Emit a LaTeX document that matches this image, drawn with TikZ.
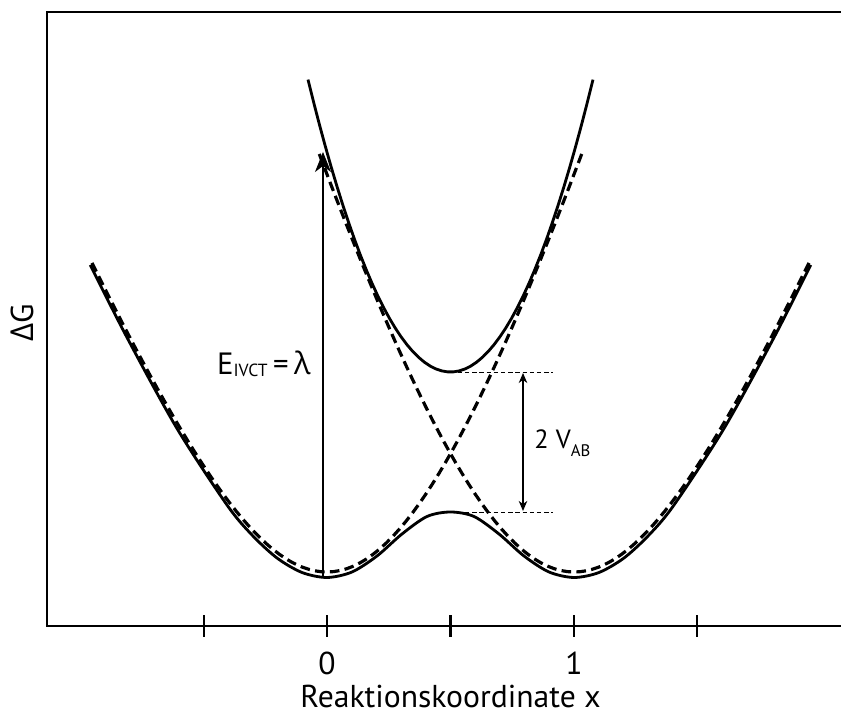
\documentclass[tikz,border=0pt]{standalone}
\usepackage{fontspec}
\setmainfont{PT Sans}
\newfontfamily\grk{Open Sans}
\usetikzlibrary{arrows.meta}

\begin{document}
\begin{tikzpicture}[line width=1.6pt, font=\fontsize{15}{18}\selectfont,
  axis/.style={line width=1.3pt},
  diab/.style={line width=1.8pt, dash pattern=on 5.5pt off 3pt},
  guide/.style={line width=0.5pt, dash pattern=on 2.5pt off 1.6pt},
  axlabel/.style={font=\fontsize{18}{20}\selectfont, anchor=base, inner sep=0pt},
  lbl/.style={inner sep=0pt}]
\useasboundingbox (0,0) rectangle (16.82,14.3);

% axes
\draw[axis] (16.82,14.06) -- (0.94,14.06) -- (0.94,1.78) -- (16.82,1.78);
\foreach \x in {4.08,6.54,9.01,11.48,13.94}
  \draw[axis] (\x,1.56) -- (\x,2.0);
\node[axlabel] (zero) at (6.54,0.80) {0};
\node[axlabel] (one) at (11.48,0.80) {1};
\node[axlabel] (xlab) at (9.01,0.14) {Reaktionskoordinate x};
\node[axlabel, rotate=90] (dg) at (0.66,7.84) {{\grk Δ}G};

% diabatic curves
\draw[diab] plot[domain=-4.70:0, samples=40] ({6.54+\x},{2.86+7.2*(sqrt(1+(\x/3)^2)-1)})
  -- plot[domain=0:5.13, samples=40] ({6.54+\x},{2.86+13.5*(sqrt(1+(\x/4)^2)-1)});
\draw[diab] plot[domain=-4.70:0, samples=40] ({11.48-\x},{2.86+7.2*(sqrt(1+(\x/3)^2)-1)})
  -- plot[domain=0:5.13, samples=40] ({11.48-\x},{2.86+13.5*(sqrt(1+(\x/4)^2)-1)});

% adiabatic curves
\draw plot[smooth] coordinates {(1.805,9.00) (2.54,7.55) (3.54,5.73) (4.54,4.20) (5.04,3.60) (5.54,3.14) (6.04,2.85) (6.54,2.75) (7.04,2.86) (7.54,3.18) (8.04,3.62) (8.54,3.97) (9.01,4.06)
  (9.48,3.97) (9.98,3.62) (10.48,3.18) (10.98,2.86) (11.48,2.75) (11.98,2.85) (12.48,3.14) (12.98,3.60) (13.48,4.20) (14.48,5.73) (15.48,7.55) (16.215,9.00)};
\draw plot[domain=-2.85:2.85, samples=50] ({9.01+\x},{6.86+0.72*(\x)^2});

% optical transition
\coordinate (gs) at (6.46,2.75);
\coordinate (fc) at (6.46,11.26);
\draw[line width=0.6pt, -{Stealth[length=0.4cm,width=0.32cm,inset=0.12cm]}] (gs) -- (fc);
\node[lbl, anchor=base east] (lam) at (6.24,6.80) {\fontsize{17.5}{20}\selectfont E\raisebox{-1pt}{\fontsize{10}{11}\selectfont IVCT}\hspace{0.18em}=\hspace{0.18em}{\grk λ}};

% splitting
\coordinate (up) at (9.01,6.86);
\coordinate (upr) at (11.06,6.86);
\coordinate (bar) at (9.01,4.06);
\coordinate (barr) at (11.06,4.06);
\draw[guide] (up) -- (upr);
\draw[guide] (bar) -- (barr);
\coordinate (va) at (10.46,6.84);
\coordinate (vb) at (10.46,4.08);
\draw[line width=0.7pt, {Stealth[length=0.2cm,width=0.17cm,inset=0.06cm]}-{Stealth[length=0.2cm,width=0.17cm,inset=0.06cm]}] (va) -- (vb);
\node[lbl, anchor=base west] (vab) at (10.66,5.32) {2 V\raisebox{-4pt}{\fontsize{9.5}{10}\selectfont AB}};
\end{tikzpicture}
\end{document}
